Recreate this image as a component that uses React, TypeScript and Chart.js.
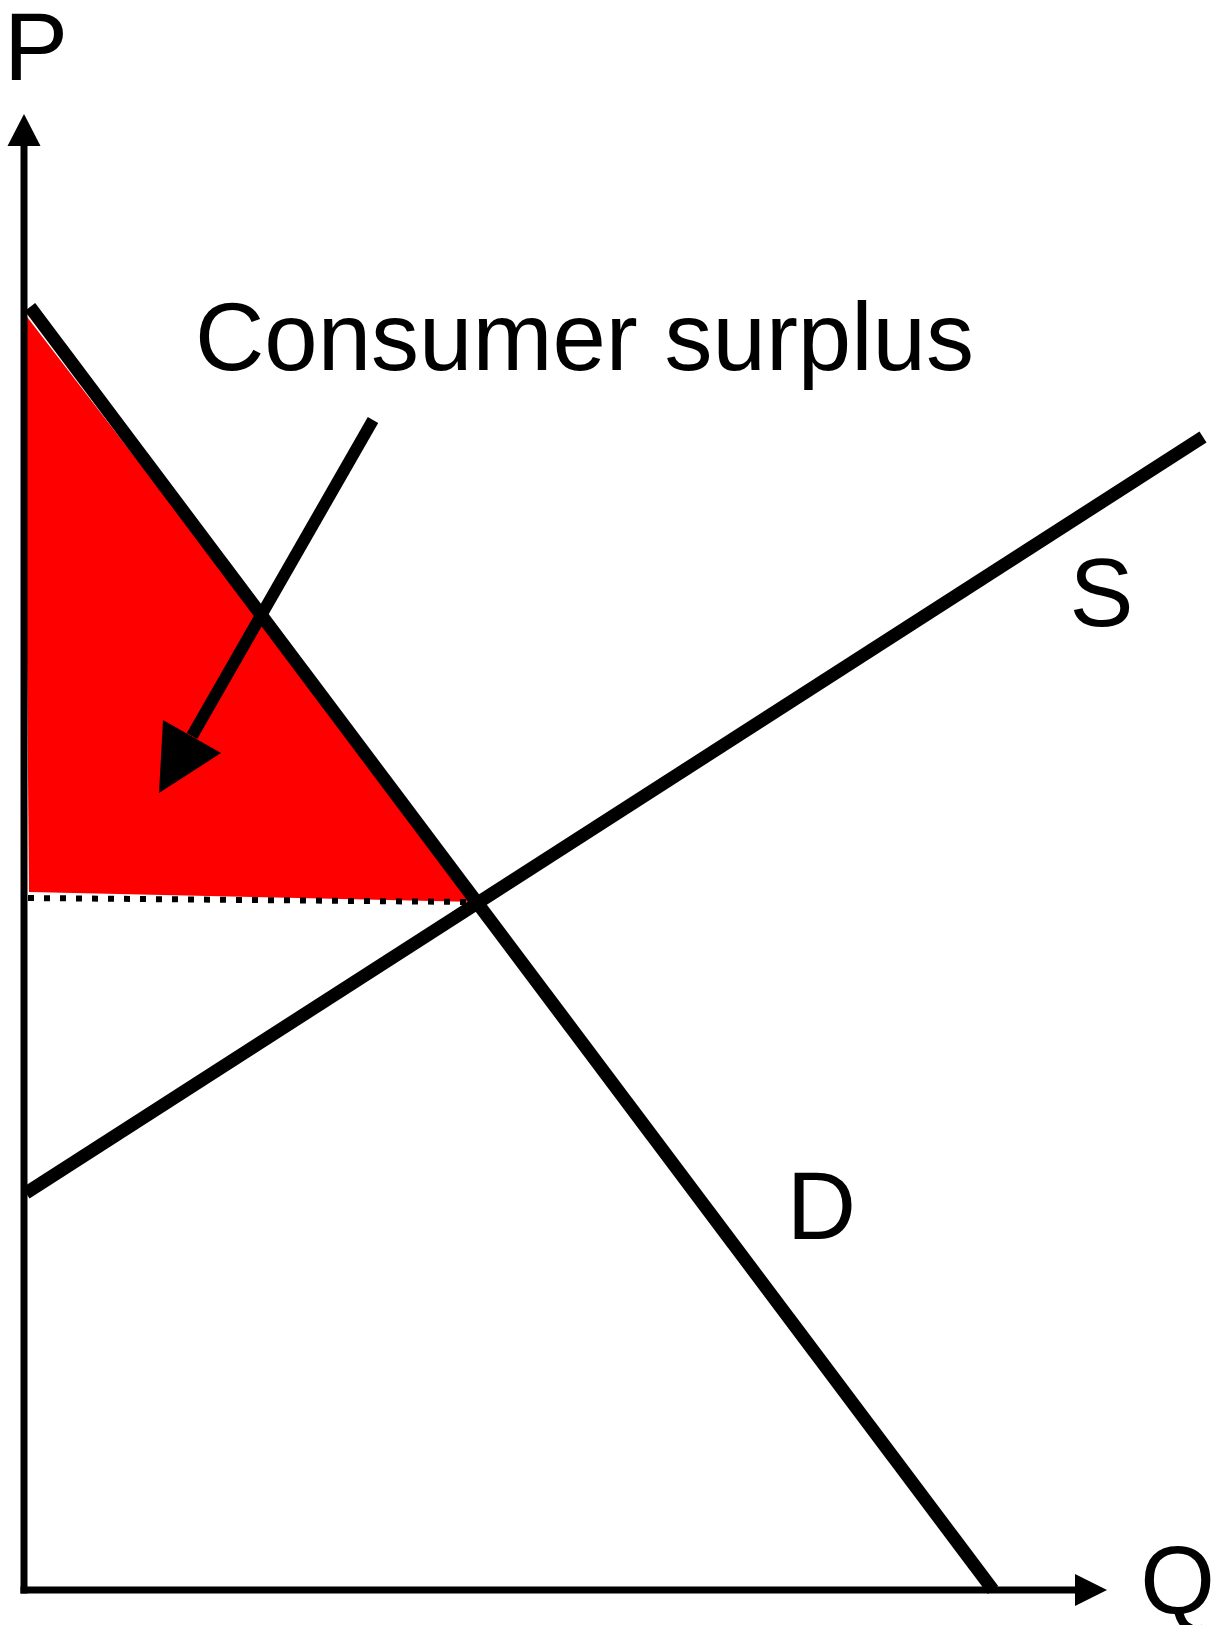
import React, { useEffect, useRef } from "react";
import { Chart, registerables } from "chart.js";

Chart.register(...registerables);

// Economic coordinates: Q (quantity) and P (price)
const demandQ = [0.6, 96.9];
const demandP = [128.3, 0];
const supplyQ = [0.2, 117.9];
const supplyP = [39.7, 115.3];
const surplusQ = [0, 45.3, 0.5];
const surplusP = [127.7, 68.8, 69.8];
const priceLineQ = [0.4, 44.6];
const priceLineP = [69.2, 68.8];
const calloutQ = [34.9, 16.8];
const calloutP = [117.0, 85.4];
const calloutHeadQ = [13.5, 13.9, 19.7];
const calloutHeadP = [79.7, 87.0, 83.7];
const axisMaxQ = 108.3;
const axisMaxP = 147.6;

const labelTexts = ["Consumer surplus", "S", "D", "P", "Q"];
const labelQ = [17.1, 107.75, 79.75, 1.2, 115.35];
const labelP = [122.0, 96.4, 35.1, 151.0, -2.4];
const labelAlign: CanvasTextAlign[] = ["left", "center", "center", "center", "center"];

const pts = (qs: number[], ps: number[]) => qs.map((q, i) => ({ x: q, y: ps[i] }));

const FONT = '96px "Liberation Sans", Arial, sans-serif';

export default function App() {
  const ref = useRef<HTMLCanvasElement | null>(null);

  useEffect(() => {
    if (!ref.current) return;

    const poly = (chart: any, qs: number[], ps: number[], color: string) => {
      const { ctx, scales } = chart;
      const x = scales.x, y = scales.y;
      ctx.save();
      ctx.beginPath();
      qs.forEach((q, i) => {
        const px = x.getPixelForValue(q);
        const py = y.getPixelForValue(ps[i]);
        if (i === 0) ctx.moveTo(px, py);
        else ctx.lineTo(px, py);
      });
      ctx.closePath();
      ctx.fillStyle = color;
      ctx.fill();
      ctx.restore();
    };

    const underlay = {
      id: "underlay",
      beforeDatasetsDraw(chart: any) {
        poly(chart, surplusQ, surplusP, "#ff0000");
      },
    };

    const overlay = {
      id: "overlay",
      afterDatasetsDraw(chart: any) {
        const { ctx, scales } = chart;
        const x = scales.x, y = scales.y;
        const x0 = x.getPixelForValue(0);
        const y0 = y.getPixelForValue(0);
        const xEnd = x.getPixelForValue(axisMaxQ);
        const yEnd = y.getPixelForValue(axisMaxP);
        ctx.save();
        ctx.strokeStyle = "#000";
        ctx.fillStyle = "#000";
        ctx.lineWidth = 7;
        ctx.lineCap = "butt";
        // vertical axis
        ctx.beginPath();
        ctx.moveTo(x0, y0 + 3.5);
        ctx.lineTo(x0, yEnd + 30);
        ctx.stroke();
        ctx.beginPath();
        ctx.moveTo(x0, yEnd);
        ctx.lineTo(x0 - 16.5, yEnd + 32);
        ctx.lineTo(x0 + 16.5, yEnd + 32);
        ctx.closePath();
        ctx.fill();
        // horizontal axis
        ctx.beginPath();
        ctx.moveTo(x0 - 3.5, y0);
        ctx.lineTo(xEnd - 30, y0);
        ctx.stroke();
        ctx.beginPath();
        ctx.moveTo(xEnd, y0);
        ctx.lineTo(xEnd - 32, y0 - 16);
        ctx.lineTo(xEnd - 32, y0 + 16);
        ctx.closePath();
        ctx.fill();
        ctx.restore();

        poly(chart, calloutHeadQ, calloutHeadP, "#000");

        ctx.save();
        ctx.font = FONT;
        ctx.fillStyle = "#000";
        ctx.textBaseline = "alphabetic";
        labelTexts.forEach((t, i) => {
          ctx.textAlign = labelAlign[i];
          ctx.fillText(t, x.getPixelForValue(labelQ[i]), y.getPixelForValue(labelP[i]));
        });
        ctx.restore();
      },
    };

    const lineDs = (data: any[], width: number, extra: any = {}) => ({
      type: "line" as const,
      data,
      showLine: true,
      borderColor: "#000",
      backgroundColor: "#000",
      borderWidth: width,
      pointRadius: 0,
      borderCapStyle: "butt",
      fill: false,
      tension: 0,
      ...extra,
    });

    const chart = new Chart(ref.current, {
      type: "scatter",
      data: {
        datasets: [
          lineDs(pts(priceLineQ, priceLineP), 6, { borderDash: [6, 10] }),
          lineDs(pts(demandQ, demandP), 13),
          lineDs(pts(supplyQ, supplyP), 13),
          lineDs(pts(calloutQ, calloutP), 12),
        ] as any,
      },
      options: {
        responsive: false,
        animation: false,
        layout: { padding: 0 },
        clip: false as any,
        plugins: {
          legend: { display: false },
          tooltip: { enabled: false },
        },
        scales: {
          x: { type: "linear", min: -2.4, max: 119.4, display: false },
          y: { type: "linear", min: -3.5, max: 159.0, display: false },
        },
      },
      plugins: [underlay, overlay],
    });
    return () => chart.destroy();
  }, []);

  return (
    <div style={{ position: "absolute", left: 0, top: 0, width: 1218, height: 1625, background: "#fff" }}>
      <canvas ref={ref} width={1218} height={1625} style={{ display: "block" }} />
    </div>
  );
}
